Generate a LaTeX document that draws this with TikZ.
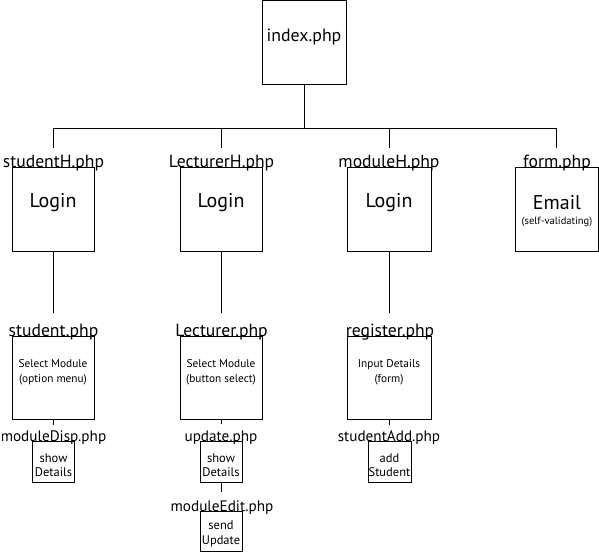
\documentclass[tikz,border=0pt]{standalone}
\usepackage{fontspec}
\setmainfont{PT Sans}
\begin{document}
\begin{tikzpicture}[x=1pt,y=-1pt]
\tikzset{
  box/.style={draw, line width=0.8pt, inner sep=0, outer sep=0},
  file/.style={font=\fontsize{17.6}{20}\selectfont, anchor=base, inner sep=0},
  subfile/.style={font=\fontsize{15.2}{18}\selectfont, anchor=base, inner sep=0},
  big/.style={font=\fontsize{20}{22}\selectfont, inner sep=0},
  mid/.style={font=\fontsize{11.3}{15}\selectfont, align=center, inner sep=0},
  sml/.style={font=\fontsize{12.5}{14.5}\selectfont, align=center, inner sep=0},
  note/.style={font=\fontsize{10.5}{12}\selectfont, inner sep=0},
  wire/.style={line width=0.8pt}
}
\useasboundingbox (0,0) rectangle (599,552);

% top page
\node[box, minimum width=84, minimum height=84] (index) at (304,42) {};
\node[font=\fontsize{17.8}{20}\selectfont, inner sep=0] (indexT) at (304,37) {index.php};

% first level pages
\node[box, minimum width=82, minimum height=84] (b1) at (53,209) {};
\node[box, minimum width=82, minimum height=84] (b2) at (221,209) {};
\node[box, minimum width=84, minimum height=84] (b3) at (389,209) {};
\node[box, minimum width=83, minimum height=84] (b4) at (556.5,209) {};
\node[file] (l1) at (53.5,167) {studentH.php};
\node[file] (l2) at (221.5,167) {LecturerH.php};
\node[file] (l3) at (389,167) {moduleH.php};
\node[file] (l4) at (557,167) {form.php};
\node[big] (t1) at (53,203) {Login};
\node[big] (t2) at (221,203) {Login};
\node[big] (t3) at (389,203) {Login};
\node[big] (t4) at (557,203) {Email};
\node[note] (t4b) at (557,222) {(self-validating)};

% bus from index to first level
\coordinate (bus) at (304,128);
\coordinate (d1) at (53,148);
\coordinate (d2) at (221,148);
\coordinate (d3) at (389,148);
\coordinate (d4) at (556,148);
\draw[wire] (index.south) -- (bus);
\draw[wire] (bus) -| (d1);
\draw[wire] (bus) -| (d2);
\draw[wire] (bus) -| (d3);
\draw[wire] (bus) -| (d4);

% second level pages
\node[box, minimum width=82, minimum height=83] (c1) at (53,377.5) {};
\node[box, minimum width=82, minimum height=83] (c2) at (221,377.5) {};
\node[box, minimum width=84, minimum height=83] (c3) at (389,377.5) {};
\node[file] (m1) at (53.5,336) {student.php};
\node[file] (m2) at (221.5,336) {Lecturer.php};
\node[file] (m3) at (390,336) {register.php};
\node[mid] (u1) at (53,372.5) {Select Module\\(option menu)};
\node[mid] (u2) at (221,372.5) {Select Module\\(button select)};
\node[mid] (u3) at (389,372.5) {Input Details\\(form)};

\coordinate (e1) at (53,313);
\coordinate (e2) at (221,313);
\coordinate (e3) at (389,313);
\draw[wire] (b1.south) -- (e1);
\draw[wire] (b2.south) -- (e2);
\draw[wire] (b3.south) -- (e3);

% third level pages
\node[box, minimum width=42, minimum height=41] (s1) at (53.5,461.5) {};
\node[box, minimum width=42, minimum height=41] (s2) at (221,461.5) {};
\node[box, minimum width=43, minimum height=41] (s3) at (389.5,461.5) {};
\node[subfile] (n1) at (53.5,441) {moduleDisp.php};
\node[subfile] (n2) at (221,441) {update.php};
\node[subfile] (n3) at (389,441) {studentAdd.php};
\node[sml] (v1) at (53.5,465) {show\\Details};
\node[sml] (v2) at (221,465) {show\\Details};
\node[sml] (v3) at (389.5,465) {add\\Student};

\coordinate (f1) at (53,425);
\coordinate (f2) at (221,424);
\coordinate (f3) at (389,425);
\draw[wire] (c1.south) -- (f1);
\draw[wire] (c2.south) -- (f2);
\draw[wire] (c3.south) -- (f3);

% fourth level page
\node[box, minimum width=42, minimum height=40] (r2) at (221,531) {};
\node[subfile] (o2) at (222,511) {moduleEdit.php};
\node[sml] (w2) at (221,534) {send\\Update};
\coordinate (g2) at (221,492);
\draw[wire] (s2.south) -- (g2);
\end{tikzpicture}
\end{document}
